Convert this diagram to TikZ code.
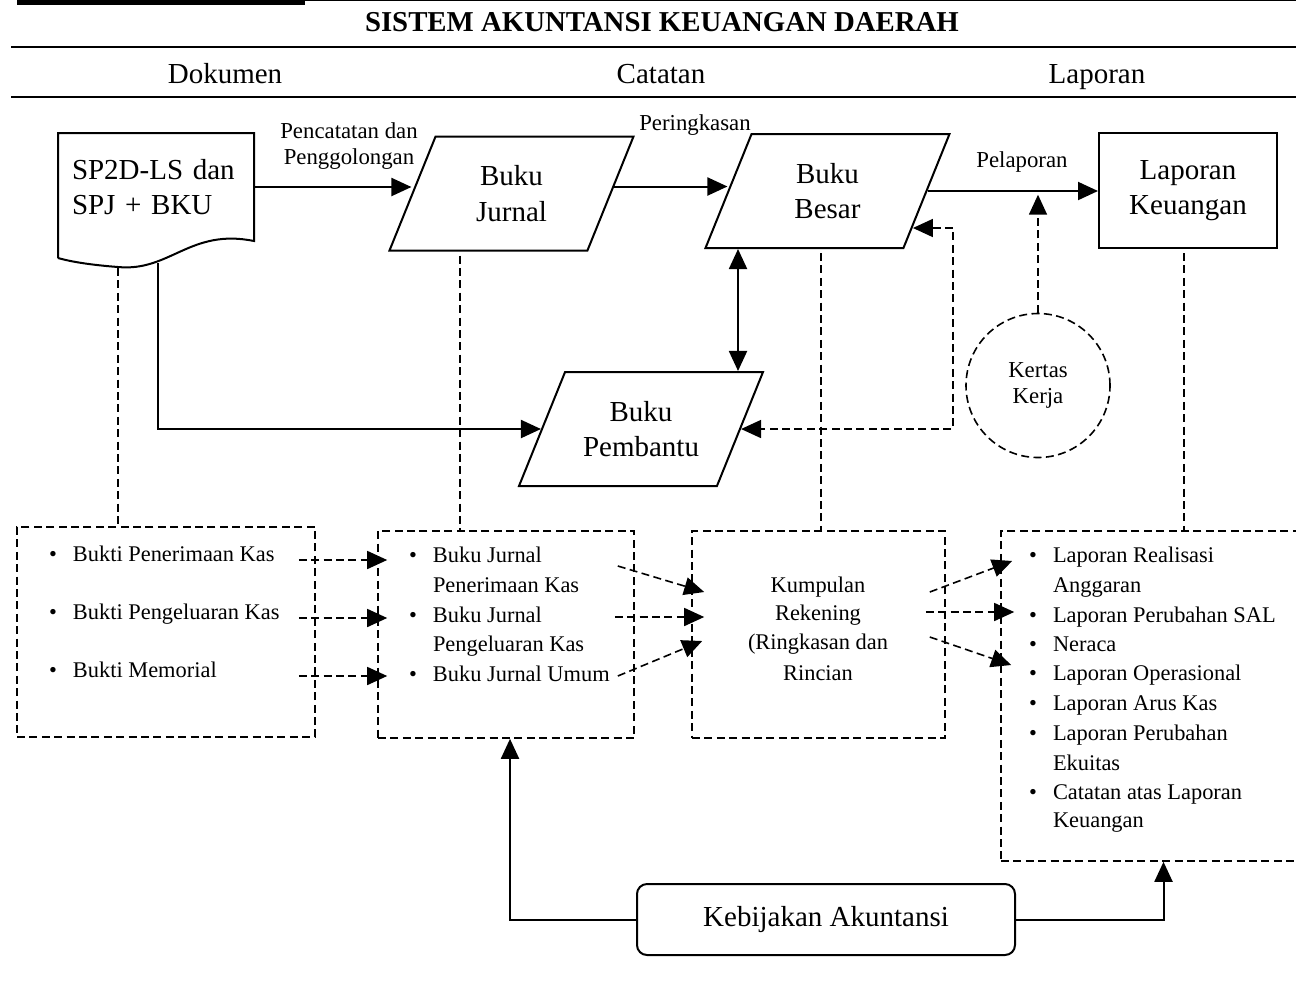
\documentclass[tikz,border=0pt]{standalone}
\usepackage{fontspec}
\setmainfont{Liberation Serif}
\usetikzlibrary{arrows.meta,shapes.geometric,calc}

\newcommand{\bigf}{\fontsize{14.5}{17.8}\selectfont}
\newcommand{\smf}{\fontsize{11.2}{14.8}\selectfont}
\newcommand{\lblf}{\fontsize{11.4}{13}\selectfont}
\newcommand{\bul}{\makebox[12pt][l]{\textbullet}}

\begin{document}
\begin{tikzpicture}[x=0.5pt,y=-0.5pt,line width=1pt,>={Triangle[length=10pt,width=9pt]},
  every node/.style={font=\smf},
  buku/.style={draw,trapezium,trapezium left angle=68,trapezium right angle=112,
    trapezium stretches body,inner ysep=14.5pt,minimum width=122pt,align=center,font=\bigf},
  putus/.style={dash pattern=on 4pt off 2.2pt,line width=0.8pt},
  kotak/.style={draw,putus,inner sep=0pt},
  kolom/.style={font=\bigf,text height=10pt,text depth=3pt},
  itm/.style={anchor=west,inner sep=0pt,text height=8pt,text depth=2.5pt}]

\useasboundingbox (0,0) rectangle (1296,982);

\fill (17,-2) rectangle (305,5);
\draw[line width=0.6pt] (305,0.6) -- (1296,0.6);
\node[font=\bfseries\fontsize{14.4}{17}\selectfont] (judul) at (662,22) {SISTEM AKUNTANSI KEUANGAN DAERAH};
\draw (11,47) -- (1296,47);
\node[kolom] (kol1) at (225,76) {Dokumen};
\node[kolom] (kol2) at (661,76) {Catatan};
\node[kolom] (kol3) at (1097,76) {Laporan};
\draw (11,97) -- (1296,97);

% baris atas
\node[text width=84pt,align=left,minimum width=98pt,minimum height=54pt,font=\bigf] (doc) at (156,187) {SP2D-LS dan\\SPJ + BKU};
\draw (58,258) -- (58,133) -- (254,133) -- (254,241)
  .. controls (190,228) and (170,272) .. (118,267)
  .. controls (92,265) and (72,262) .. (58,258);

\node[buku] (bj) at (511.5,193.5) {Buku\\Jurnal};
\node[buku] (bb) at (827.5,191) {Buku\\Besar};
\node[buku] (bp) at (641,429) {Buku\\Pembantu};
\node[draw,minimum width=89pt,minimum height=57.5pt,align=center,font=\bigf] (lk) at (1188,190.5) {Laporan\\Keuangan};
\node[draw,circle,putus,minimum size=72pt,align=center,font=\lblf] (kk) at (1038,385.5) {Kertas\\Kerja};

\node[align=center,font=\lblf] (lb1) at (349,146) {Pencatatan dan\\Penggolongan};
\node[font=\lblf] (lb2) at (695,125) {Peringkasan};
\node[font=\lblf] (lb3) at (1022,162) {Pelaporan};

\draw[->] (doc.east) -- (doc.east -| bj.west);
\draw[->] ($(bj.east)+(1.3pt,3.5pt)$) coordinate (e1) -- (e1 -| bb.west);
\draw[->] (bb.east) -- (bb.east -| lk.west);
\draw[<->] ($(bb.bottom left corner)+(17pt,0)$) coordinate (e2) -- (e2 |- bp.north);
\draw[->] ($(doc.south)+(1pt,-10.5pt)$) |- (bp.west);
\draw[putus,<->] ($(bb.bottom right corner)+(4.4pt,10.5pt)$) -- ++(20pt,0) |- (bp.east);
\draw[putus,->] (kk.north) -- ++(0,59pt);

% kotak bawah
\node[kotak,minimum width=149pt,minimum height=105pt] (box1) at (166,632) {};
\node[kotak,minimum width=128pt,minimum height=103.5pt] (box2) at (506,634.5) {};
\node[kotak,minimum width=126.5pt,minimum height=103.5pt] (box3) at (818.5,634.5) {};
\node[kotak,minimum width=150.5pt,minimum height=165pt] (box4) at (1151.5,696) {};

\draw[putus] ($(doc.south)+(-19pt,-13pt)$) coordinate (d1) -- (d1 |- box1.north);
\draw[putus] ($(bj.bottom left corner)+(36pt,-2pt)$) coordinate (d2) -- (d2 |- box2.north);
\draw[putus] ($(bb.bottom left corner)+(58.5pt,-2pt)$) coordinate (d3) -- (d3 |- box3.north);
\draw[putus] ($(lk.south)+(-2pt,-2pt)$) coordinate (d4) -- (d4 |- box4.north);

\node[itm] (b1) at (48,556) {\bul Bukti Penerimaan Kas};
\node[itm] (b2) at (48,614) {\bul Bukti Pengeluaran Kas};
\node[itm] (b3) at (48,672) {\bul Bukti Memorial};

\node[itm] (j1) at (408,557) {\bul Buku Jurnal};
\node[itm] (j2) at (432,587) {Penerimaan Kas};
\node[itm] (j3) at (408,617) {\bul Buku Jurnal};
\node[itm] (j4) at (432,646) {Pengeluaran Kas};
\node[itm] (j5) at (408,676) {\bul Buku Jurnal Umum};

\node (k1) at (818,587) {Kumpulan};
\node (k2) at (818,615) {Rekening};
\node (k3) at (818,644) {(Ringkasan dan};
\node (k4) at (818,673) {Rincian};

\node[itm] (l1) at (1028,557) {\bul Laporan Realisasi};
\node[itm] (l2) at (1052,587) {Anggaran};
\node[itm] (l3) at (1028,617) {\bul Laporan Perubahan SAL};
\node[itm] (l4) at (1028,646) {\bul Neraca};
\node[itm] (l5) at (1028,675) {\bul Laporan Operasional};
\node[itm] (l6) at (1028,705) {\bul Laporan Arus Kas};
\node[itm] (l7) at (1028,735) {\bul Laporan Perubahan};
\node[itm] (l8) at (1052,765) {Ekuitas};
\node[itm] (l9) at (1028,794) {\bul Catatan atas Laporan};
\node[itm] (l10) at (1052,822) {Keuangan};

\draw[putus,->] ($(box1.east |- b1)+(-8.5pt,-2pt)$) -- ($(box2.west |- b1)+(5pt,-2pt)$);
\draw[putus,->] ($(box1.east |- b2)+(-8.5pt,-2pt)$) -- ($(box2.west |- b2)+(5pt,-2pt)$);
\draw[putus,->] ($(box1.east |- b3)+(-8.5pt,-2pt)$) -- ($(box2.west |- b3)+(5pt,-2pt)$);

\draw[putus,->] ($(box2.east |- j1)+(-8.5pt,-4.5pt)$) -- ($(box3.west |- k1)+(6.5pt,-2.5pt)$);
\draw[putus,->] ($(box2.east |- j3)+(-10pt,0)$) -- ($(box3.west |- k2)+(6.5pt,-1pt)$);
\draw[putus,->] ($(box2.east |- j5)+(-8.5pt,0)$) -- ($(box3.west |- k3)+(5.5pt,1.5pt)$);

\draw[putus,->] ($(box3.east |- k1)+(-8pt,-2.5pt)$) -- ($(box4.west |- l1)+(6pt,-2pt)$);
\draw[putus,->] ($(box3.east |- k2)+(-10pt,1.5pt)$) -- ($(box4.west |- l3)+(7pt,2.5pt)$);
\draw[putus,->] ($(box3.east |- k3)+(-8pt,3.5pt)$) -- ($(box4.west |- l4)+(5.5pt,-9.5pt)$);

\node[draw,rounded corners=5pt,minimum width=189pt,minimum height=35.5pt,font=\bigf] (kb) at (826,919.5) {Kebijakan Akuntansi};
\draw[->] (kb.west) -| ($(box2.south)+(2pt,0)$);
\draw[->] (kb.east) -| ($(box4.south)+(6pt,0)$);

\end{tikzpicture}
\end{document}
